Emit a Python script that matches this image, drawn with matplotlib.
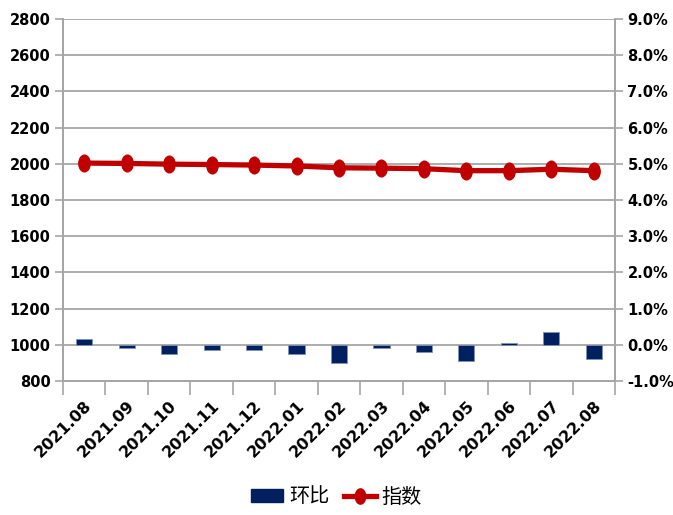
import matplotlib
matplotlib.use("Agg")
import matplotlib.pyplot as plt
import numpy as np
from matplotlib.path import Path
from matplotlib.ticker import FuncFormatter, MultipleLocator
from matplotlib.patches import Patch
from matplotlib.lines import Line2D

months = ["2021.08", "2021.09", "2021.10", "2021.11", "2021.12", "2022.01", "2022.02",
          "2022.03", "2022.04", "2022.05", "2022.06", "2022.07", "2022.08"]
index_vals = [2004, 2002, 1998, 1996, 1993, 1988, 1978, 1976, 1973, 1962, 1962, 1970, 1962]
mom_pct = [0.15, -0.09, -0.25, -0.15, -0.15, -0.25, -0.49, -0.10, -0.20, -0.44, 0.05, 0.35, -0.39]

fig = plt.figure(figsize=(6.73, 5.15), dpi=100)
ax = fig.add_axes([63/673, 1-381/515, (615-63)/673, (381-19)/515])
ax2 = ax.twinx()

x = np.arange(len(months))
grid_c = "#a6a6a6"

# bars on right axis (percent)
ax2.bar(x, mom_pct, width=0.38, color="#002060", edgecolor="#8093b8", linewidth=0.6, zorder=2)
ax2.set_ylim(-1.0, 9.0)
ax2.yaxis.set_major_locator(MultipleLocator(1.0))
ax2.yaxis.set_major_formatter(FuncFormatter(lambda v, p: f"{v:.1f}%"))

# line on left axis
circ = Path.unit_circle()
ell = Path(circ.vertices * np.array([0.68, 1.0]), circ.codes)
ax.set_zorder(ax2.get_zorder() + 1)
ax.patch.set_visible(False)
ax.plot(x, index_vals, color="#c00000", linewidth=3.8, marker=ell, markersize=12,
        markerfacecolor="#c00000", markeredgecolor="#c00000", zorder=3)
ax.set_ylim(800, 2800)
ax.yaxis.set_major_locator(MultipleLocator(200))
ax.set_xlim(-0.5, len(months) - 0.5)

# gridlines
for v in range(800, 2801, 200):
    ax2.axhline((v - 1000) / 200.0, color=grid_c, linewidth=1.3, zorder=1)

# x ticks at category boundaries
ax.set_xticks(np.arange(-0.5, len(months), 1.0), minor=False)
ax.set_xticklabels([])
ax.set_xticks(x, minor=True)
ax.set_xticklabels(months, minor=True, rotation=45, ha="right", rotation_mode="anchor",
                   fontsize=11.5, fontweight="bold", family="DejaVu Sans")
ax.tick_params(axis="x", which="major", length=10, width=1.2, color=grid_c, direction="out")
ax.tick_params(axis="x", which="minor", length=0, pad=12)

ax.tick_params(axis="y", length=6, width=1.2, color=grid_c, direction="out", pad=3,
               labelsize=10.5)
ax2.tick_params(axis="y", length=6, width=1.2, color=grid_c, direction="out", pad=3,
                labelsize=10.5)
for lab in ax.get_yticklabels() + ax2.get_yticklabels():
    lab.set_fontweight("bold")
    lab.set_family("DejaVu Sans")

for a in (ax, ax2):
    a.spines["top"].set_visible(False)
    for s in ("left", "right", "bottom"):
        a.spines[s].set_color(grid_c)
        a.spines[s].set_linewidth(1.3)

handles = [Patch(facecolor="#002060", edgecolor="#002060"),
           Line2D([0], [0], color="#c00000", linewidth=3.8, marker=ell, markersize=11,
                  markerfacecolor="#c00000", markeredgecolor="#c00000")]
leg = fig.legend(handles, ["环比", "指数"], loc="center", bbox_to_anchor=(0.5, 1-497/515),
                 ncol=2, frameon=False, prop={"family": ["Noto Sans CJK SC", "DejaVu Sans"], "size": 14.5},
                 handlelength=1.6, handleheight=0.65, columnspacing=0.7, handletextpad=0.3)

fig.savefig("out.png", dpi=100)
